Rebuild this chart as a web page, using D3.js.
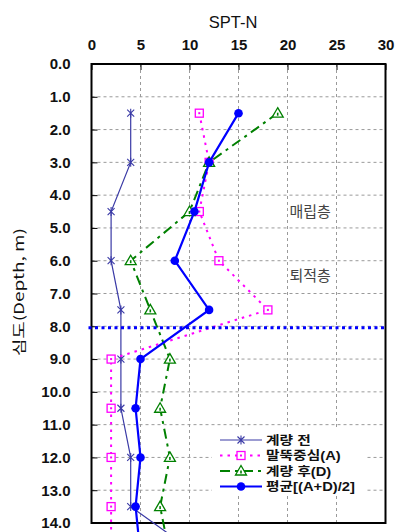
<!DOCTYPE html>
<html>
<head>
<meta charset="utf-8">
<script src="https://cdn.jsdelivr.net/npm/d3@7"></script>
<style>
  html, body { margin: 0; padding: 0; background: #fff; }
  svg { display: block; }
</style>
</head>
<body>
<svg id="chart" width="396" height="532"></svg>
<script>
// Depth of each SPT test (m)
const depths = [1.5, 3.0, 4.5, 6.0, 7.5, 9.0, 10.5, 12.0, 13.5, 15.0];
// SPT-N blow counts
const beforeN = [4, 4, 2, 2, 3, 3, 3, 4, 4, 11];          // 계량 전
const pileCenterN = [11, 12, 11, 13, 18, 2, 2, 2, 2, 2];  // 말뚝중심(A)
const afterN = [19, 12, 10, 4, 6, 8, 7, 8, 7, 8];         // 계량 후(D)
const meanN = [15, 12, 10.5, 8.5, 12, 5, 4.5, 5, 4.5, 5];  // 평균[(A+D)/2]

const xTicks = [0, 5, 10, 15, 20, 25, 30];
const yTicks = [0, 1, 2, 3, 4, 5, 6, 7, 8, 9, 10, 11, 12, 13, 14];
const layerBoundary = 8.0;
const layerLabels = [
  { text: "매립층", depth: 4.5, n: 20.2 },
  { text: "퇴적층", depth: 6.45, n: 20.2 }
];

const seriesNames = ["계량 전", "말뚝중심(A)", "계량 후(D)", "평균[(A+D)/2]"];

(function draw() {
  const svg = d3.select("#chart");
  const x = d3.scaleLinear().domain([0, 30]).range([91.5, 385.5]);
  const y = d3.scaleLinear().domain([0, 14]).range([64, 523]);
  const pLeft = x(0), pRight = x(30), pTop = y(0), pBottom = y(14);
  const numFont = "'Liberation Sans', Arial, sans-serif";
  const korFont = "'Noto Sans CJK KR', 'Liberation Sans', sans-serif";
  const mixFont = "'Liberation Sans', 'Noto Sans CJK KR', sans-serif";

  // Grid
  const grid = svg.append("g");
  grid.selectAll("line.v").data(xTicks.slice(1, -1)).join("line")
    .attr("x1", d => x(d)).attr("x2", d => x(d))
    .attr("y1", pTop).attr("y2", pBottom)
    .attr("stroke", "#9a9a9a").attr("stroke-width", 1).attr("stroke-dasharray", "3,3");
  grid.selectAll("line.h").data(yTicks.slice(1, -1)).join("line")
    .attr("x1", pLeft).attr("x2", pRight)
    .attr("y1", d => y(d)).attr("y2", d => y(d))
    .attr("stroke", "#9a9a9a").attr("stroke-width", 1).attr("stroke-dasharray", "3,3");

  // Inner tick marks via axes
  const topTicks = svg.append("g").attr("transform", `translate(0,${pTop})`)
    .call(d3.axisBottom(x).tickValues(xTicks).tickSize(6).tickFormat(""));
  topTicks.select(".domain").remove();
  topTicks.selectAll("line").attr("stroke", "#000").attr("stroke-width", 1);
  const leftTicks = svg.append("g").attr("transform", `translate(${pLeft},0)`)
    .call(d3.axisRight(y).tickValues(yTicks).tickSize(6).tickFormat(""));
  leftTicks.select(".domain").remove();
  leftTicks.selectAll("line").attr("stroke", "#000").attr("stroke-width", 1);

  // Tick labels
  const xLab = svg.append("g").attr("transform", `translate(0,${pTop})`)
    .call(d3.axisTop(x).tickValues(xTicks).tickSize(0).tickPadding(14).tickFormat(d3.format("d")));
  xLab.select(".domain").remove();
  xLab.selectAll("text").attr("font-family", numFont).attr("font-size", 15)
    .attr("font-weight", "bold").attr("fill", "#111");

  const yLab = svg.append("g").attr("transform", `translate(${pLeft},0)`)
    .call(d3.axisLeft(y).tickValues(yTicks).tickSize(0).tickPadding(21).tickFormat(d3.format(".1f")));
  yLab.select(".domain").remove();
  yLab.selectAll("text").attr("font-family", numFont).attr("font-size", 15)
    .attr("font-weight", "bold").attr("fill", "#111");

  // Axis titles
  svg.append("text").attr("x", 233).attr("y", 28).attr("text-anchor", "middle")
    .attr("font-family", numFont).attr("font-size", 16.5).attr("fill", "#111").text("SPT-N");
  svg.append("text").attr("transform", "translate(24,356) rotate(-90) scale(1.4,1)")
    .attr("text-anchor", "start").attr("font-family", korFont).attr("font-size", 13.5)
    .attr("fill", "#111").text("심도(Depth, m)");

  // Frame
  svg.append("rect").attr("x", pLeft).attr("y", pTop)
    .attr("width", pRight - pLeft).attr("height", pBottom - pTop)
    .attr("fill", "none").attr("stroke", "#000").attr("stroke-width", 2);

  // Layer labels
  svg.selectAll("text.layer").data(layerLabels).join("text")
    .attr("x", d => x(d.n)).attr("y", d => y(d.depth)).attr("dy", "0.35em")
    .attr("font-family", korFont).attr("font-size", 15).attr("fill", "#444")
    .text(d => d.text);

  // Series
  const series = [
    { name: seriesNames[0], values: beforeN, color: "#3a3aa6", width: 1.2, dash: null, marker: "star" },
    { name: seriesNames[1], values: pileCenterN, color: "#ff00ff", width: 2, dash: "2.5,5", marker: "square" },
    { name: seriesNames[2], values: afterN, color: "#008000", width: 2, dash: "10,5,3,5", marker: "triangle" },
    { name: seriesNames[3], values: meanN, color: "#0000ff", width: 2.2, dash: null, marker: "circle" }
  ];

  const line = d3.line().x(d => x(d[0])).y(d => y(d[1]));

  function drawMarker(g, type, color) {
    if (type === "star") {
      g.append("path").attr("d", "M-3.5,-3.5L3.5,3.5M-3.5,3.5L3.5,-3.5M0,-4.5L0,4.5")
        .attr("stroke", color).attr("stroke-width", 1.1).attr("fill", "none");
    } else if (type === "square") {
      g.append("rect").attr("x", -4).attr("y", -4).attr("width", 8).attr("height", 8)
        .attr("fill", "#fff").attr("stroke", color).attr("stroke-width", 1.3);
      g.append("rect").attr("x", -1).attr("y", -1).attr("width", 2).attr("height", 2).attr("fill", color);
    } else if (type === "triangle") {
      g.append("path").attr("d", "M0,-5.5L5.5,4L-5.5,4Z")
        .attr("fill", "#fff").attr("stroke", color).attr("stroke-width", 1.3);
      g.append("rect").attr("x", -0.8).attr("y", -0.5).attr("width", 1.6).attr("height", 3).attr("fill", color);
    } else {
      g.append("circle").attr("r", 4.3).attr("fill", color);
    }
  }

  series.forEach(s => {
    const pts = s.values.map((v, i) => [v, depths[i]]);
    svg.append("path").datum(pts).attr("d", line)
      .attr("fill", "none").attr("stroke", s.color).attr("stroke-width", s.width)
      .attr("stroke-dasharray", s.dash);
    pts.forEach(p => {
      const g = svg.append("g").attr("transform", `translate(${x(p[0])},${y(p[1])})`);
      drawMarker(g, s.marker, s.color);
    });
  });

  // Layer boundary
  svg.append("line").attr("x1", pLeft - 3).attr("x2", pRight)
    .attr("y1", y(layerBoundary) + 1.5).attr("y2", y(layerBoundary) + 1.5)
    .attr("stroke", "#0000ff").attr("stroke-width", 3).attr("stroke-dasharray", "3,3.5");

  // Legend
  const legend = svg.append("g");
  legend.append("rect").attr("x", 212).attr("y", 429).attr("width", 154).attr("height", 67).attr("fill", "#fff");
  series.forEach((s, i) => {
    const ly = 440 + i * 15.5;
    legend.append("line").attr("x1", 220).attr("x2", 262).attr("y1", ly).attr("y2", ly)
      .attr("stroke", s.color).attr("stroke-width", s.width).attr("stroke-dasharray", s.dash);
    const g = legend.append("g").attr("transform", `translate(241,${ly})`);
    drawMarker(g, s.marker, s.color);
    legend.append("text").attr("transform", `translate(266,${ly}) scale(1.18,1)`)
      .attr("dy", "0.36em")
      .attr("font-family", mixFont).attr("font-size", 12.5).attr("font-weight", "bold")
      .attr("fill", "#111").text(s.name);
  });
})();
</script>
</body>
</html>
